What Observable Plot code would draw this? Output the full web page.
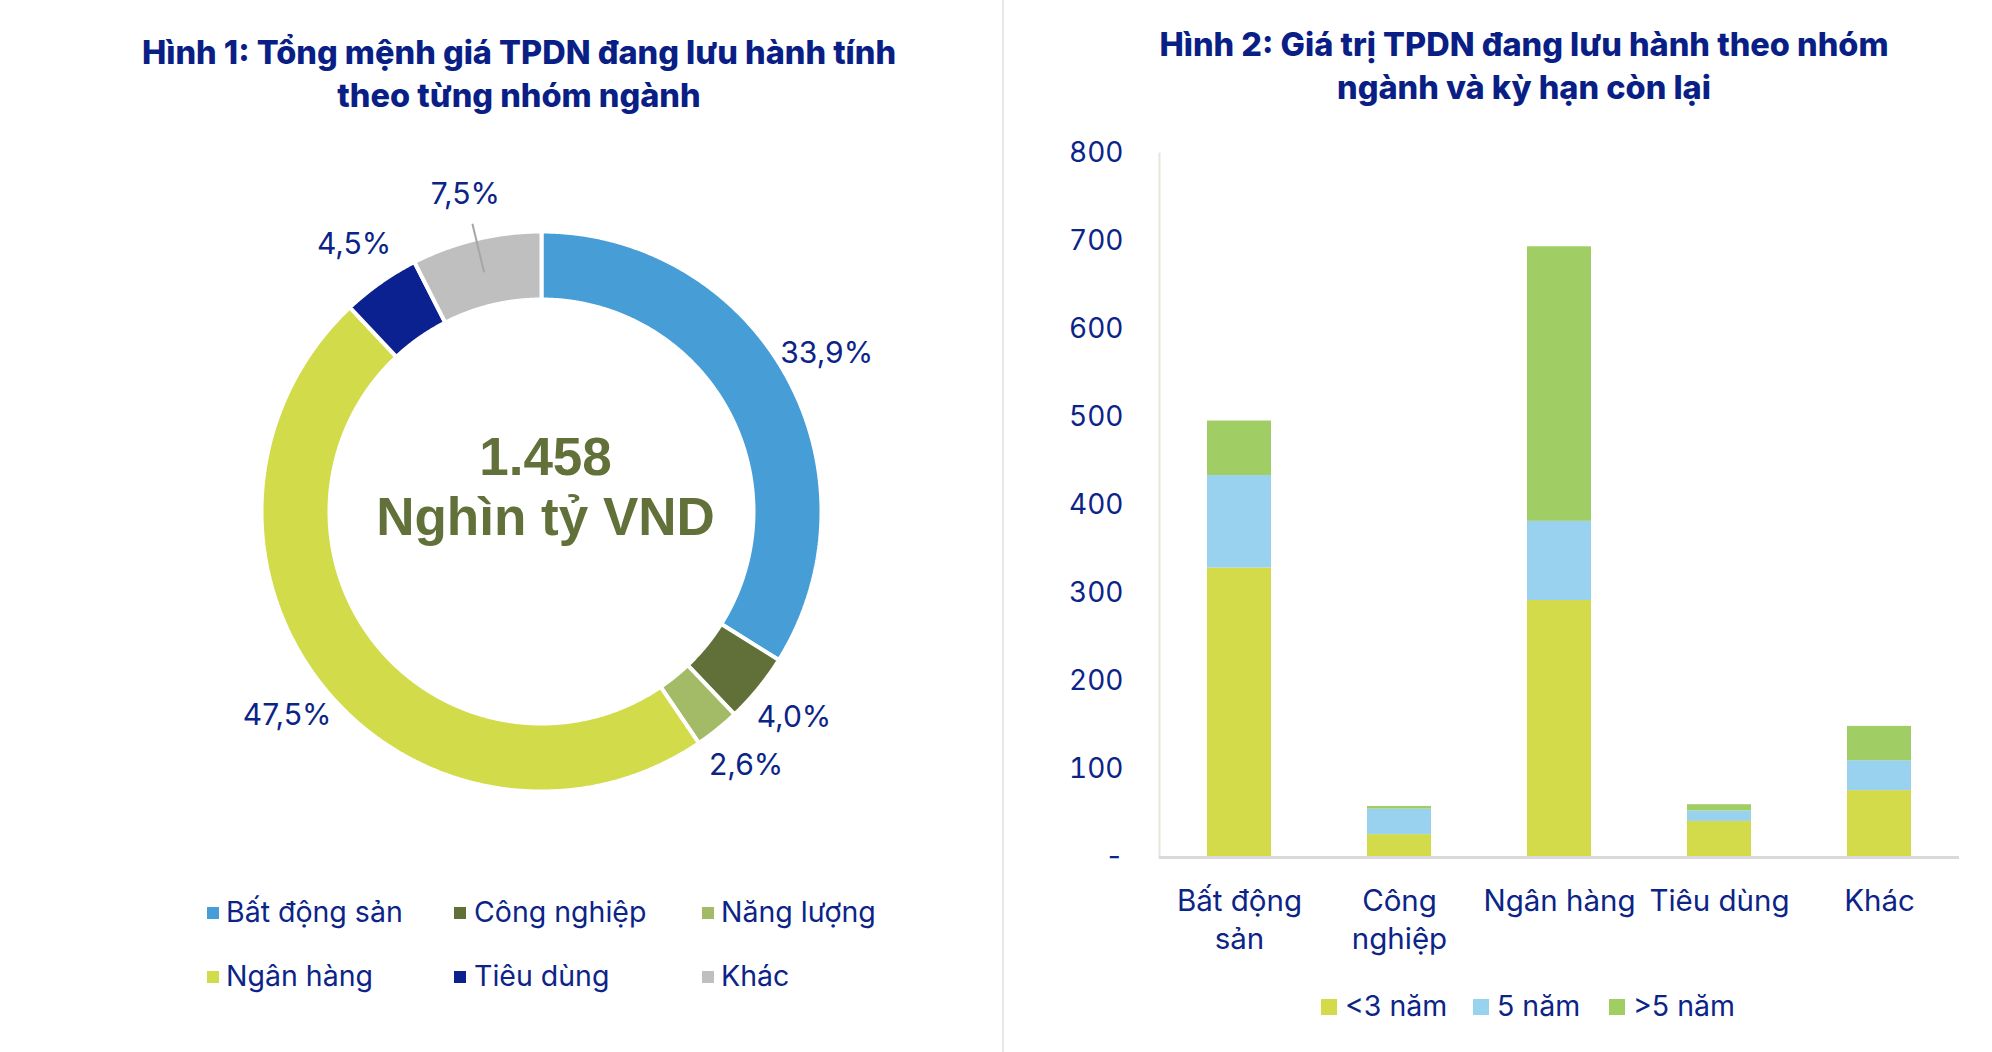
<!DOCTYPE html>
<html><head><meta charset="utf-8">
<script src="https://cdn.jsdelivr.net/npm/d3@7"></script>
<script src="https://cdn.jsdelivr.net/npm/@observablehq/plot@0.6"></script>
<style>
html,body{margin:0;padding:0;background:#fff}
body{width:1992px;height:1052px;position:relative;overflow:hidden;font-family:Inter,sans-serif;color:#0c2487}
.abs{position:absolute}
.title{position:absolute;font-weight:800;font-size:32.5px;line-height:43px;text-align:center;color:#0a1f86;white-space:nowrap}
.legtx{position:absolute;font-size:28.5px;line-height:36px;white-space:nowrap;color:#0c2487}
.sw{position:absolute}
</style></head><body>
<div class="abs" style="left:1002px;top:0;width:2px;height:1052px;background:#e8e8e8"></div>
<div class="title" style="left:119px;top:31px;width:800px">Hình 1: Tổng mệnh giá TPDN đang lưu hành tính<br>theo từng nhóm ngành</div>
<div class="title" style="left:1124px;top:23px;width:800px">Hình 2: Giá trị TPDN đang lưu hành theo nhóm<br>ngành và kỳ hạn còn lại</div>
<div id="donut" class="abs" style="left:141px;top:131px"></div>
<div id="bars" class="abs" style="left:1010px;top:120px"></div>
<div id="leg1"></div>
<div id="leg2"></div>
<script>
// ---- Figure 1 data ----
const sectors = ["Bất động sản", "Công nghiệp", "Năng lượng", "Ngân hàng", "Tiêu dùng", "Khác"];
const sectorShares = [33.9, 4.0, 2.6, 47.5, 4.5, 7.5];
const sectorColors = ["#479dd6", "#616f38", "#a3bb66", "#d2dc4a", "#0b2190", "#bfbfbf"];
const totalLabel = "1.458\nNghìn tỷ VND";

// ---- Figure 2 data ----
const barCategories = ["Bất động sản", "Công nghiệp", "Ngân hàng", "Tiêu dùng", "Khác"];
const barTickLabels = ["Bất động\nsản", "Công\nnghiệp", "Ngân hàng", "Tiêu dùng", "Khác"];
const maturities = ["<3 năm", "5 năm", ">5 năm"];
const under3 = [329, 26, 292, 41, 76];
const five = [105, 29, 90, 12, 34];
const over5 = [62, 3, 312, 7, 39];
const maturityColors = ["#d3db4a", "#99d2ee", "#a1ce64"];
const yTicks = [0, 100, 200, 300, 400, 500, 600, 700, 800];

const navy = "#0c2487";

// ---- Donut ----
const R = 278, r0 = 214, gap = 4;
const pie = d3.pie().sort(null).value(d => d.share)(sectors.map((name, i) => ({name, share: sectorShares[i]})));
const slicePts = [];
pie.forEach(p => {
  const a0 = p.startAngle, a1 = p.endAngle;
  const n = Math.max(2, Math.ceil((a1 - a0) / 0.005));
  const ring = [];
  const ro = R + gap / 2, ri = r0 - gap / 2;
  for (let k = 0; k <= n; k++) { const a = a0 + (a1 - a0) * k / n; ring.push([ro * Math.sin(a), -ro * Math.cos(a)]); }
  for (let k = n; k >= 0; k--) { const a = a0 + (a1 - a0) * k / n; ring.push([ri * Math.sin(a), -ri * Math.cos(a)]); }
  ring.push(ring[0]);
  ring.forEach(([x, y]) => slicePts.push({name: p.data.name, x, y}));
});
const pct = v => d3.format(".1f")(v).replace(".", ",") + "%";
const labels = pie.map(p => {
  const a = (p.startAngle + p.endAngle) / 2;
  const lr = R + 48;
  return {name: p.data.name, text: pct(p.data.share), x: lr * Math.sin(a), y: -lr * Math.cos(a),
    x1: (R + 18) * Math.sin(a), y1: -(R + 18) * Math.cos(a),
    x2: ((R + r0) / 2) * Math.sin(a), y2: -((R + r0) / 2) * Math.cos(a)};
});

const donut = Plot.plot({
  width: 800, height: 760, margin: 0,
  style: {fontFamily: "Inter, sans-serif", background: "transparent"},
  x: {domain: [-400, 400], axis: null},
  y: {domain: [-380, 380], range: [0, 760], axis: null},
  color: {domain: sectors, range: sectorColors},
  marks: [
    Plot.line(slicePts, {x: "x", y: "y", z: "name", fill: "name", stroke: "white", strokeWidth: gap, strokeLinejoin: "miter"}),
    Plot.link(labels.filter(d => d.name === "Khác"), {x1: "x1", y1: "y1", x2: "x2", y2: "y2", stroke: "#a6a6a6", strokeWidth: 2}),
    Plot.text(labels, {x: "x", y: "y", text: "text", fontSize: 30, fill: navy}),
    Plot.text([totalLabel], {frameAnchor: "middle", text: d => d, dx: 4, dy: -26, fontSize: 53, fontWeight: "bold",
      fontFamily: "Liberation Sans, Arial, sans-serif", fill: "#627039", lineHeight: 1.15})
  ]
});
document.getElementById("donut").appendChild(donut);

// ---- Stacked bars ----
const rows = [];
barCategories.forEach((c, i) => {
  [under3, five, over5].forEach((arr, j) => rows.push({cat: c, mat: maturities[j], value: arr[i]}));
});
const bars = Plot.plot({
  width: 970, height: 850, marginLeft: 149, marginRight: 21, marginTop: 33, marginBottom: 113,
  style: {fontFamily: "Inter, sans-serif", background: "transparent"},
  x: {domain: barCategories, paddingInner: 0.6, paddingOuter: 0.3, axis: null},
  y: {domain: [0, 800], axis: null},
  color: {domain: maturities, range: maturityColors},
  marks: [
    Plot.frame({anchor: "left", stroke: "#e6e6df", strokeWidth: 2}),
    Plot.barY(rows, {x: "cat", y: "value", fill: "mat"}),
    Plot.ruleY([0], {stroke: "#d9d9d9", strokeWidth: 3}),
    Plot.axisY(yTicks, {label: null, tickSize: 0, tickPadding: 36, fontSize: 28, color: navy, tickFormat: d => d === 0 ? "-" : String(d)}),
    Plot.text(barCategories, {x: d => d, text: (d, i) => barTickLabels[i], frameAnchor: "bottom", dy: 27,
      lineAnchor: "top", lineHeight: 1.27, fontSize: 29.5, fill: navy})
  ]
});
document.getElementById("bars").appendChild(bars);

// ---- Legends ----
function legend(el, items, colors, cols, rowsY, sqX, txX, sq) {
  items.forEach((name, i) => {
    const col = i % cols, row = Math.floor(i / cols);
    const s = document.createElement("div");
    s.className = "sw";
    s.style.cssText = `left:${sqX[col]}px;top:${rowsY[row] - sq / 2}px;width:${sq}px;height:${sq}px;background:${colors[i]}`;
    el.appendChild(s);
    const t = document.createElement("div");
    t.className = "legtx";
    t.style.left = txX[col] + "px";
    t.style.top = (rowsY[row] - 19) + "px";
    t.textContent = name;
    el.appendChild(t);
  });
}
legend(document.getElementById("leg1"), sectors, sectorColors, 3, [913, 977], [207, 454, 702], [226, 474, 721], 12);
legend(document.getElementById("leg2"), maturities, maturityColors, 3, [1007], [1321, 1473, 1609], [1345, 1497, 1633], 16);
</script>
</body></html>
